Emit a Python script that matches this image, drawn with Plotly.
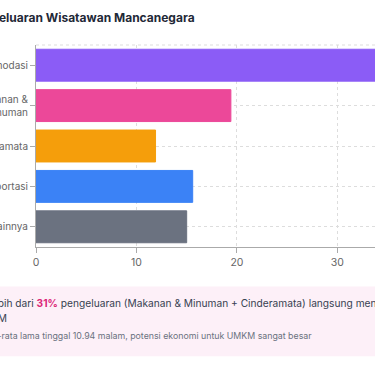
import plotly.graph_objects as go

categories = ["Akomodasi", "Makanan &<br>Minuman", "Cinderamata", "Transportasi", "Lainnya"]
values = [38.1, 19.4, 11.9, 15.6, 15.0]
colors = ["#8b5cf6", "#ec4899", "#f59e0b", "#3b82f6", "#6b7280"]
x_ticks = [0, 10, 20, 30]

title_text = "Pengeluaran Wisatawan Mancanegara"
insight_line1 = "Lebih dari <b><span style='color:#db2777'>31%</span></b> pengeluaran (Makanan & Minuman + Cinderamata) langsung mengalir ke"
insight_line2 = "UMKM"
insight_line3 = "Rata-rata lama tinggal 10.94 malam, potensi ekonomi untuk UMKM sangat besar"

W, H = 375, 366
L, R, T, B = 35.5, 0, 45, 118.5
PW = W - L - R
PH = H - T - B

def px(xp):
    return (xp - L) / PW

def py(yp):
    return (H - B - yp) / PH

FONT = "Inter, Roboto, sans-serif"

fig = go.Figure()
fig.add_trace(go.Bar(
    y=categories, x=values, orientation="h",
    marker=dict(color=colors, line=dict(color=colors, width=1)),
    hoverinfo="skip",
))

fig.update_layout(
    width=W, height=H,
    margin=dict(l=L, r=R, t=T, b=B, autoexpand=False),
    paper_bgcolor="white", plot_bgcolor="white",
    showlegend=False,
    bargap=0.21,
    font=dict(family=FONT, color="#666666", size=10),
    xaxis=dict(
        range=[0, PW / 10.06], tickvals=x_ticks, ticktext=[str(v) for v in x_ticks],
        showgrid=True, gridcolor="#dddddd", griddash="dot", gridwidth=1,
        showline=True, linecolor="#aaaaaa", linewidth=1,
        ticks="outside", ticklen=5, tickcolor="#aaaaaa",
        zeroline=False, automargin=False, fixedrange=True,
        tickfont=dict(size=10.5, color="#666666"),
    ),
    yaxis=dict(
        categoryorder="array", categoryarray=categories, autorange="reversed",
        showgrid=True, gridcolor="#dddddd", griddash="dot", gridwidth=1,
        showline=True, linecolor="#aaaaaa", linewidth=1,
        ticks="outside", ticklen=5, tickcolor="#aaaaaa",
        automargin=False, fixedrange=True,
        tickfont=dict(size=10, color="#666666"),
    ),
    shapes=[
        dict(type="line", xref="paper", yref="paper", x0=0, x1=1, y0=1, y1=1,
             line=dict(color="#dddddd", width=1, dash="dot"), layer="below"),
        dict(type="rect", xref="paper", yref="paper",
             x0=px(-20), x1=px(400), y0=py(357), y1=py(287),
             fillcolor="#fdf0f8", line=dict(width=0), layer="below"),
    ],
    annotations=[
        dict(text="<b>" + title_text + "</b>", xref="paper", yref="paper",
             x=px(197), y=py(17), xanchor="right", yanchor="middle", showarrow=False,
             font=dict(size=12, color="#1f2937", family=FONT)),
        dict(text=insight_line1, xref="paper", yref="paper",
             x=px(-17), y=py(304), xanchor="left", yanchor="middle", showarrow=False,
             font=dict(size=10.2, color="#374151", family=FONT)),
        dict(text=insight_line2, xref="paper", yref="paper",
             x=px(-29), y=py(319), xanchor="left", yanchor="middle", showarrow=False,
             font=dict(size=10.2, color="#374151", family=FONT)),
        dict(text=insight_line3, xref="paper", yref="paper",
             x=px(-24), y=py(336), xanchor="left", yanchor="middle", showarrow=False,
             font=dict(size=8.8, color="#6b7280", family=FONT)),
    ],
)

fig.write_html(
    "out.html",
    config={"displayModeBar": False},
    post_script="document.body.style.margin='0';document.body.style.overflow='hidden';",
)
